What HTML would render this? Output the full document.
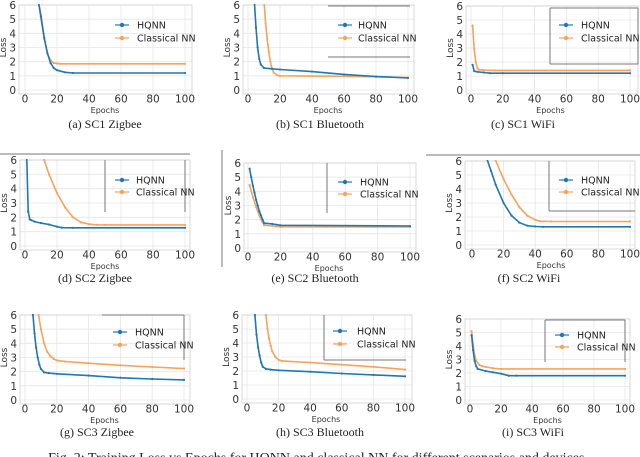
<!DOCTYPE html>
<html><head><meta charset="utf-8">
<style>
html,body{margin:0;padding:0;background:#fff;}
svg{display:block;font-family:"DejaVu Sans","Liberation Sans",sans-serif;}
.cap{font-family:"Liberation Serif",serif;font-size:12px;fill:#222;}
</style></head>
<body>
<svg id="fig" width="640" height="457" viewBox="0 0 640 457" xmlns="http://www.w3.org/2000/svg">
<text class="cap" x="318" y="462" text-anchor="middle" style="font-size:14px">Fig. 2: Training Loss vs Epochs for HQNN and classical NN for different scenarios and devices.</text>
</svg>
<script>
const xTicks=[0,20,40,60,80,100];
const yTicks=[0,1,2,3,4,5,6];
const aHqE=[8,10,12,14,16,18,20,25,30,100], aHqV=[6.5,5.2,3.7,2.6,1.9,1.55,1.4,1.25,1.2,1.2];
const aClE=[8,10,12,14,16,18,20,22,100], aClV=[6.5,5.0,3.6,2.6,2.1,1.9,1.87,1.85,1.85];
const bHqE=[4,5,6,7,8,10,15,20,40,60,80,100], bHqV=[6.2,4.4,3.0,2.2,1.8,1.55,1.5,1.45,1.3,1.1,0.95,0.85];
const bClE=[10,11,12,13,14,15,16,18,20,40,60,80,100], bClV=[6.3,4.7,3.6,2.7,2.0,1.5,1.25,1.05,1.0,0.98,0.97,0.93,0.88];
const cHqE=[1,2,4,8,12,20,100], cHqV=[1.8,1.35,1.3,1.25,1.2,1.2,1.2];
const cClE=[1,2,3,4,5,8,15,100], cClV=[4.6,2.9,2.0,1.55,1.45,1.42,1.4,1.4];
const dHqE=[1,2,3,4,6,10,15,20,23,30,100], dHqV=[6.5,2.4,1.85,1.8,1.7,1.6,1.5,1.35,1.28,1.27,1.27];
const dClE=[12,15,20,25,30,35,40,45,50,100], dClV=[6.0,5.0,3.7,2.7,2.0,1.65,1.52,1.48,1.47,1.47];
const eHqE=[1,2,3,4,5,6,7,8,9,10,15,20,100], eHqV=[5.6,5.0,4.4,3.9,3.4,3.0,2.6,2.3,2.0,1.75,1.7,1.6,1.55];
const eClE=[1,3,5,7,9,10,15,20,100], eClV=[4.45,3.6,2.9,2.3,1.8,1.6,1.55,1.5,1.48];
const fHqE=[9,12,15,20,25,30,35,40,45,100], fHqV=[6.3,5.3,4.3,3.0,2.1,1.6,1.38,1.32,1.3,1.3];
const fClE=[14,20,25,30,35,40,43,50,100], fClV=[6.3,4.7,3.6,2.7,2.1,1.8,1.7,1.68,1.68];
const gHqE=[5,6,7,8,9,10,12,15,20,40,60,80,100], gHqV=[6.0,4.7,3.7,3.0,2.5,2.2,1.95,1.9,1.85,1.72,1.57,1.48,1.42];
const gClE=[8,10,12,14,16,18,20,25,40,60,80,100], gClV=[6.4,5.0,4.0,3.4,3.1,2.9,2.8,2.72,2.6,2.45,2.33,2.22];
const hHqE=[5,6,7,8,9,10,12,15,20,40,60,80,100], hHqV=[6.0,4.6,3.7,3.1,2.6,2.3,2.15,2.1,2.05,1.95,1.82,1.72,1.62];
const hClE=[12,13,14,15,16,18,20,22,40,60,80,100], hClV=[6.0,5.0,4.3,3.8,3.4,3.0,2.8,2.72,2.6,2.45,2.3,2.1];
const iHqE=[1,2,3,4,5,10,15,20,25,30,100], iHqV=[4.8,3.7,2.9,2.5,2.3,2.15,2.05,1.95,1.8,1.8,1.8];
const iClE=[1,2,3,4,6,8,10,15,20,100], iClV=[5.1,4.1,3.3,2.9,2.6,2.5,2.45,2.35,2.3,2.3];

const NS="http://www.w3.org/2000/svg";
const fig=document.getElementById('fig');
function mk(tag,attrs,parent){const e=document.createElementNS(NS,tag);for(const k in attrs)e.setAttribute(k,attrs[k]);(parent||fig).appendChild(e);return e;}
const BLUE="#1f77b4", ORANGE="#f7a35c";

function plot(id,cap,g,hqE,hqV,clE,clV,leg){
  const grp=mk('g',{});
  
  
  const xs=v=>g.x0+(g.x1-g.x0)*v/100;
  const ys=v=>g.y0+(g.y6-g.y0)*v/6;
  const clip='clip'+id;
  const cp=mk('clipPath',{id:clip},grp);
  mk('rect',{x:g.fl,y:g.y6-1,width:g.fr-g.fl,height:g.y0-g.y6+2},cp);
  for(const t of xTicks){
    const l=mk('line',{x1:xs(t),x2:xs(t),y1:g.y6,y2:g.y0+4,stroke:'#e6e6e6','stroke-width':0.8},grp);
    
    
    const tx=mk('text',{x:xs(t),y:g.y0+12.5,'text-anchor':'middle','font-size':10.5,fill:'#333'},grp);
    tx.textContent=t;
    
    
  }
  for(const t of yTicks){
    const l=mk('line',{x1:g.fl,x2:g.fr,y1:ys(t),y2:ys(t),stroke:'#e6e6e6','stroke-width':0.8},grp);
    
    
    const tx=mk('text',{x:g.fl-3,y:ys(t)+4,'text-anchor':'end','font-size':10.5,fill:'#333'},grp);
    tx.textContent=t;
    
    
  }
  const fr=mk('rect',{x:g.fl,y:g.y6,width:g.fr-g.fl,height:g.y0-g.y6+4,fill:'none',stroke:'#cfcfcf','stroke-width':0.8},grp);
  
  
  const xl=mk('text',{x:(g.x0+g.x1)/2,y:g.y0+23,'text-anchor':'middle','font-size':8,fill:'#333'},grp);
  xl.textContent='Epochs';
  
  
  const yl=mk('text',{x:0,y:0,'text-anchor':'middle','font-size':9,fill:'#333',transform:`translate(${g.fl-13},${(g.y0+g.y6)/2}) rotate(-90)`},grp);
  yl.textContent='Loss';
  
  
  function series(E,V,col,name){
    const pts=E.map((e,i)=>xs(e).toFixed(1)+','+ys(V[i]).toFixed(1)).join(' ');
    const pl=mk('polyline',{points:pts,fill:'none',stroke:col,'stroke-width':1.6,'clip-path':`url(#${clip})`},grp);
    
    
    E.forEach((e,i)=>{
      const c=mk('circle',{cx:xs(e),cy:ys(V[i]),r:1.1,fill:col,'clip-path':`url(#${clip})`},grp);
      
      
    });
  }
  series(clE,clV,ORANGE,'classical-nn');
  series(hqE,hqV,BLUE,'hqnn');
  const lg=mk('g',{},grp);
  
  
  for(const ln of leg.lines){mk('line',{x1:ln[0],y1:ln[1],x2:ln[2],y2:ln[3],stroke:'#777','stroke-width':1},lg);}
  const ent=[['HQNN',BLUE,leg.y1],['Classical NN',ORANGE,leg.y2]];
  ent.forEach(([t,c,y],k)=>{
    const eg=mk('g',{},lg);
    
    
    mk('line',{x1:leg.mx-7,x2:leg.mx+7,y1:y,y2:y,stroke:c,'stroke-width':1.2},eg);
    mk('circle',{cx:leg.mx,cy:y,r:2.2,fill:c},eg);
    const tx=mk('text',{x:leg.tx,y:y+3.5,'font-size':9.5,fill:'#222'},eg);
    tx.textContent=t;
  });
  const ct=mk('text',{x:g.cx,y:g.cy,'text-anchor':'middle',class:'cap'},grp);
  ct.textContent=cap;
  
  
}

plot('a','(a) SC1 Zigbee',{x0:25,x1:185,y6:5,y0:90,fl:19,fr:192,cx:105,cy:128},aHqE,aHqV,aClE,aClV,{lines:[],y1:25,y2:38,mx:122,tx:137});
plot('b','(b) SC1 Bluetooth',{x0:248,x1:408,y6:5,y0:90,fl:243,fr:414,cx:320,cy:128},bHqE,bHqV,bClE,bClV,{lines:[[328,6,410,6],[328,57,410,57]],y1:25,y2:38,mx:345,tx:358});
plot('c','(c) SC1 WiFi',{x0:471,x1:630,y6:6,y0:90,fl:466,fr:638,cx:523,cy:128},cHqE,cHqV,cClE,cClV,{lines:[[550,8,638,8],[550,8,550,64],[550,64,638,64],[638,8,638,64]],y1:25,y2:38,mx:566,tx:581});
plot('d','(d) SC2 Zigbee',{x0:25,x1:185,y6:160,y0:246,fl:20,fr:190,cx:95,cy:282},dHqE,dHqV,dClE,dClV,{lines:[[0,154,190,154],[105,160,105,212],[185,160,185,212]],y1:180,y2:192,mx:122,tx:136});
plot('e','(e) SC2 Bluetooth',{x0:248,x1:410,y6:163,y0:248,fl:244,fr:416,cx:315,cy:282},eHqE,eHqV,eClE,eClV,{lines:[[327,163,327,213],[222,150,222,267]],y1:182,y2:194,mx:345,tx:360});
plot('f','(f) SC2 WiFi',{x0:472,x1:630,y6:161,y0:245,fl:465,fr:635,cx:529,cy:282},fHqE,fHqV,fClE,fClV,{lines:[[426,155,640,155],[549,161,549,211],[549,211,635,211]],y1:180,y2:192,mx:566,tx:581});
plot('g','(g) SC3 Zigbee',{x0:25,x1:184,y6:315,y0:400,fl:20,fr:190,cx:97,cy:436},gHqE,gHqV,gClE,gClV,{lines:[[102,315,184,315],[184,315,184,360]],y1:332,y2:345,mx:120,tx:135});
plot('h','(h) SC3 Bluetooth',{x0:247,x1:405,y6:315,y0:399,fl:242,fr:412,cx:320,cy:436},hHqE,hHqV,hClE,hClV,{lines:[[324,315,324,360],[324,360,406,360]],y1:331,y2:344,mx:340,tx:357});
plot('i','(i) SC3 WiFi',{x0:470,x1:625,y6:319,y0:400,fl:465,fr:630,cx:533,cy:436},iHqE,iHqV,iClE,iClV,{lines:[[545,320,625,320],[545,320,545,362],[625,320,625,362]],y1:335,y2:347,mx:562,tx:577});
</script>
</body></html>
